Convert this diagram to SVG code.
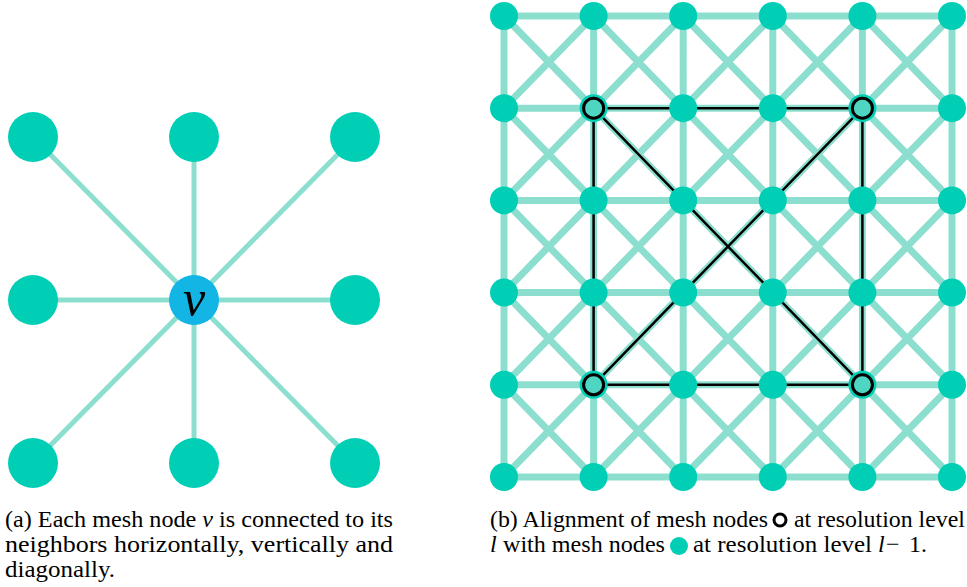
<svg xmlns="http://www.w3.org/2000/svg" width="967" height="587" viewBox="0 0 967 587">
<style>
.bg{fill:#ffffff}
.e1{stroke:#8CDFCF;stroke-width:5;fill:none}
.e2{stroke:#8CDFCF;stroke-width:7;fill:none}
.n1{fill:#00CEB5}
.nc{fill:#12B5E3}
.hi{stroke:#000;stroke-width:2.5;fill:none}
.ring{stroke:#000;stroke-width:3;fill:#4FD6C2}
text{font-size:24px;fill:#000}
.it{font-style:italic}
</style>
<rect class="bg" x="0" y="0" width="967" height="587"/>
<!-- Panel (a) -->
<g id="edges-a">
<path class="e1" d="M194 300L33 137M194 300L194 137M194 300L355 137M194 300L33 300M194 300L355 300M194 300L33 463M194 300L194 463M194 300L355 463"/>
</g>
<g id="a-n1"><circle class="n1" cx="33" cy="137" r="25"/></g>
<g id="a-n2"><circle class="n1" cx="194" cy="137" r="25"/></g>
<g id="a-n3"><circle class="n1" cx="355" cy="137" r="25"/></g>
<g id="a-n4"><circle class="n1" cx="33" cy="300" r="25"/></g>
<g id="a-v"><circle class="nc" cx="194" cy="300" r="25"/><text font-family="Liberation Serif, serif" class="it" x="194" y="315" text-anchor="middle" style="font-size:50px">v</text></g>
<g id="a-n6"><circle class="n1" cx="355" cy="300" r="25"/></g>
<g id="a-n7"><circle class="n1" cx="33" cy="463" r="25"/></g>
<g id="a-n8"><circle class="n1" cx="194" cy="463" r="25"/></g>
<g id="a-n9"><circle class="n1" cx="355" cy="463" r="25"/></g>
<!-- Panel (b) -->
<g id="edges-b">
<path class="e2" d="M504 16H952M504 108.2H952M504 200.4H952M504 292.6H952M504 384.8H952M504 477H952
M504 16V477M593.6 16V477M683.2 16V477M772.8 16V477M862.4 16V477M952 16V477
M504 16L952 477M593.6 16L952 384.8M683.2 16L952 292.6M772.8 16L952 200.4M862.4 16L952 108.2
M504 108.2L862.4 477M504 200.4L772.8 477M504 292.6L683.2 477M504 384.8L593.6 477
M952 16L504 477M862.4 16L504 384.8M772.8 16L504 292.6M683.2 16L504 200.4M593.6 16L504 108.2
M952 108.2L593.6 477M952 200.4L683.2 477M952 292.6L772.8 477M952 384.8L862.4 477"/>
<path class="hi" d="M593.6 108.2H862.4V384.8H593.6Z M593.6 108.2L862.4 384.8M862.4 108.2L593.6 384.8"/>
</g>
<g id="b-r0c0"><circle class="n1" cx="504" cy="16" r="14"/></g>
<g id="b-r0c1"><circle class="n1" cx="593.6" cy="16" r="14"/></g>
<g id="b-r0c2"><circle class="n1" cx="683.2" cy="16" r="14"/></g>
<g id="b-r0c3"><circle class="n1" cx="772.8" cy="16" r="14"/></g>
<g id="b-r0c4"><circle class="n1" cx="862.4" cy="16" r="14"/></g>
<g id="b-r0c5"><circle class="n1" cx="952" cy="16" r="14"/></g>
<g id="b-r1c0"><circle class="n1" cx="504" cy="108.2" r="14"/></g>
<g id="b-r1c1"><circle class="n1" cx="593.6" cy="108.2" r="14"/><circle class="ring" cx="593.6" cy="108.2" r="10"/></g>
<g id="b-r1c2"><circle class="n1" cx="683.2" cy="108.2" r="14"/></g>
<g id="b-r1c3"><circle class="n1" cx="772.8" cy="108.2" r="14"/></g>
<g id="b-r1c4"><circle class="n1" cx="862.4" cy="108.2" r="14"/><circle class="ring" cx="862.4" cy="108.2" r="10"/></g>
<g id="b-r1c5"><circle class="n1" cx="952" cy="108.2" r="14"/></g>
<g id="b-r2c0"><circle class="n1" cx="504" cy="200.4" r="14"/></g>
<g id="b-r2c1"><circle class="n1" cx="593.6" cy="200.4" r="14"/></g>
<g id="b-r2c2"><circle class="n1" cx="683.2" cy="200.4" r="14"/></g>
<g id="b-r2c3"><circle class="n1" cx="772.8" cy="200.4" r="14"/></g>
<g id="b-r2c4"><circle class="n1" cx="862.4" cy="200.4" r="14"/></g>
<g id="b-r2c5"><circle class="n1" cx="952" cy="200.4" r="14"/></g>
<g id="b-r3c0"><circle class="n1" cx="504" cy="292.6" r="14"/></g>
<g id="b-r3c1"><circle class="n1" cx="593.6" cy="292.6" r="14"/></g>
<g id="b-r3c2"><circle class="n1" cx="683.2" cy="292.6" r="14"/></g>
<g id="b-r3c3"><circle class="n1" cx="772.8" cy="292.6" r="14"/></g>
<g id="b-r3c4"><circle class="n1" cx="862.4" cy="292.6" r="14"/></g>
<g id="b-r3c5"><circle class="n1" cx="952" cy="292.6" r="14"/></g>
<g id="b-r4c0"><circle class="n1" cx="504" cy="384.8" r="14"/></g>
<g id="b-r4c1"><circle class="n1" cx="593.6" cy="384.8" r="14"/><circle class="ring" cx="593.6" cy="384.8" r="10"/></g>
<g id="b-r4c2"><circle class="n1" cx="683.2" cy="384.8" r="14"/></g>
<g id="b-r4c3"><circle class="n1" cx="772.8" cy="384.8" r="14"/></g>
<g id="b-r4c4"><circle class="n1" cx="862.4" cy="384.8" r="14"/><circle class="ring" cx="862.4" cy="384.8" r="10"/></g>
<g id="b-r4c5"><circle class="n1" cx="952" cy="384.8" r="14"/></g>
<g id="b-r5c0"><circle class="n1" cx="504" cy="477" r="14"/></g>
<g id="b-r5c1"><circle class="n1" cx="593.6" cy="477" r="14"/></g>
<g id="b-r5c2"><circle class="n1" cx="683.2" cy="477" r="14"/></g>
<g id="b-r5c3"><circle class="n1" cx="772.8" cy="477" r="14"/></g>
<g id="b-r5c4"><circle class="n1" cx="862.4" cy="477" r="14"/></g>
<g id="b-r5c5"><circle class="n1" cx="952" cy="477" r="14"/></g>
<!-- Captions -->
<g id="caption-a" font-family="Liberation Serif, serif">
<text x="5" y="527" textLength="388" lengthAdjust="spacingAndGlyphs">(a) Each mesh node <tspan class="it">v</tspan> is connected to its</text>
<text x="5" y="552" textLength="388" lengthAdjust="spacingAndGlyphs">neighbors horizontally, vertically and</text>
<text x="5" y="577" textLength="110" lengthAdjust="spacingAndGlyphs">diagonally.</text>
</g>
<g id="caption-b" font-family="Liberation Serif, serif">
<text x="490" y="527" textLength="278" lengthAdjust="spacingAndGlyphs">(b) Alignment of mesh nodes</text>
<circle cx="780" cy="520" r="6" fill="none" stroke="#000" stroke-width="3"/>
<text x="794" y="527" textLength="171" lengthAdjust="spacingAndGlyphs">at resolution level</text>
<text x="490" y="552" class="it">l</text>
<text x="503" y="552" textLength="162" lengthAdjust="spacingAndGlyphs">with mesh nodes</text>
<circle cx="679" cy="546" r="9" fill="#00CEB5"/>
<text x="693" y="552" textLength="179" lengthAdjust="spacingAndGlyphs">at resolution level</text>
<text x="878" y="552" class="it">l</text>
<text x="886" y="552">−</text>
<text x="909" y="552">1.</text>
</g>
</svg>
